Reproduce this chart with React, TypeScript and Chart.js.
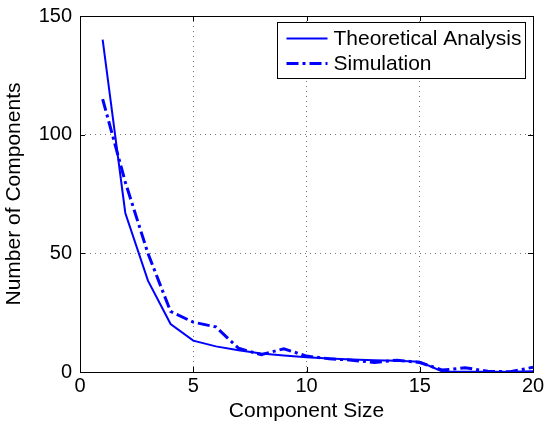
import React, { useEffect, useRef } from "react";
import { Chart, registerables } from "chart.js";

Chart.register(...registerables);

const componentSizes = [1, 2, 3, 4, 5, 6, 7, 8, 9, 10, 11, 12, 13, 14, 15, 16, 17, 18, 19, 20];
const theoretical = [140, 67, 38.5, 20.2, 13.2, 10.8, 9.2, 7.8, 7, 6.2, 5.7, 5.3, 5, 4.7, 4.3, 0.2, 0.1, 0.1, 0.1, 0.3];
const simulation = [115, 80, 50, 25.5, 21, 19, 10, 7.3, 9.8, 6.7, 5.6, 5, 4, 5, 4, 0.8, 1.8, 0.3, 0.1, 2];
const seriesNames = ["Theoretical Analysis", "Simulation"];
const xTitle = "Component Size";
const yTitle = "Number of Components";

const FONT = "Liberation Sans, Arial, Helvetica, sans-serif";

const boxPlugin = {
  id: "matlabBox",
  afterDraw(chart: any) {
    const { ctx, chartArea: a, scales } = chart;
    ctx.save();
    ctx.strokeStyle = "#000";
    ctx.lineWidth = 1;
    ctx.setLineDash([]);
    ctx.strokeRect(Math.round(a.left) + 0.5, Math.round(a.top) + 0.5, Math.round(a.right - a.left), Math.round(a.bottom - a.top));
    const tl = 5;
    ctx.beginPath();
    scales.x.ticks.forEach((t: any) => {
      const px = Math.round(scales.x.getPixelForValue(t.value)) + 0.5;
      ctx.moveTo(px, a.bottom);
      ctx.lineTo(px, a.bottom - tl);
      ctx.moveTo(px, a.top);
      ctx.lineTo(px, a.top + tl);
    });
    scales.y.ticks.forEach((t: any) => {
      const py = Math.round(scales.y.getPixelForValue(t.value)) + 0.5;
      ctx.moveTo(a.left, py);
      ctx.lineTo(a.left + tl, py);
      ctx.moveTo(a.right, py);
      ctx.lineTo(a.right - tl, py);
    });
    ctx.stroke();

    // legend
    const lx0 = Math.round(a.right - 256) + 0.5;
    const ly0 = Math.round(a.top + 6) + 0.5;
    const lw = 248;
    const lh = 56;
    ctx.fillStyle = "#fff";
    ctx.fillRect(lx0, ly0, lw, lh);
    ctx.strokeStyle = "#000";
    ctx.strokeRect(lx0, ly0, lw, lh);
    const ds = chart.data.datasets;
    const rows = [ly0 + 16, ly0 + 41];
    ds.forEach((d: any, i: number) => {
      ctx.strokeStyle = d.borderColor;
      ctx.lineWidth = d.borderWidth;
      ctx.setLineDash(d.borderDash || []);
      ctx.beginPath();
      ctx.moveTo(lx0 + 9, rows[i]);
      ctx.lineTo(lx0 + 50, rows[i]);
      ctx.stroke();
      ctx.setLineDash([]);
      ctx.fillStyle = "#000";
      ctx.font = "21px " + FONT;
      ctx.textBaseline = "middle";
      ctx.textAlign = "left";
      ctx.fillText(d.label, lx0 + 56, rows[i] + 1);
    });
    ctx.restore();
  },
};

export default function App() {
  const ref = useRef<HTMLCanvasElement | null>(null);
  useEffect(() => {
    if (!ref.current) return;
    const chart = new Chart(ref.current, {
      type: "line",
      data: {
        datasets: [
          {
            label: seriesNames[0],
            data: componentSizes.map((x, i) => ({ x, y: theoretical[i] })),
            borderColor: "#0000ff",
            borderWidth: 2,
            pointRadius: 0,
            tension: 0,
            fill: false,
          },
          {
            label: seriesNames[1],
            data: componentSizes.map((x, i) => ({ x, y: simulation[i] })),
            borderColor: "#0000ff",
            borderWidth: 3,
            borderDash: [12, 4, 3, 4],
            pointRadius: 0,
            tension: 0,
            fill: false,
          },
        ],
      },
      options: {
        animation: false,
        responsive: false,
        maintainAspectRatio: false,
        layout: { padding: { top: 16, right: 13, left: 0, bottom: 0 } },
        plugins: { legend: { display: false }, tooltip: { enabled: false } },
        scales: {
          x: {
            type: "linear",
            min: 0,
            max: 20,
            ticks: { stepSize: 5, color: "#000", font: { size: 20, family: FONT }, padding: 2, maxRotation: 0 },
            grid: { color: "#777", drawTicks: false } as any,
            border: { display: false, dash: [1, 4] },
            title: { display: true, text: xTitle, color: "#000", font: { size: 21, family: FONT }, padding: { top: 0, bottom: 5 } },
            afterFit(scale: any) {
              scale.height = 57;
              scale.paddingLeft = 0;
              scale.paddingRight = 0;
            },
          },
          y: {
            type: "linear",
            min: 0,
            max: 150,
            ticks: { stepSize: 50, color: "#000", font: { size: 20, family: FONT }, padding: 8 },
            grid: { color: "#777", drawTicks: false } as any,
            border: { display: false, dash: [1, 4] },
            title: { display: true, text: yTitle, color: "#000", font: { size: 21, family: FONT }, padding: { top: 2, bottom: 0 } },
            afterFit(scale: any) {
              scale.width = 80;
              scale.paddingTop = 0;
              scale.paddingBottom = 0;
            },
          },
        },
      },
      plugins: [boxPlugin],
    });
    return () => chart.destroy();
  }, []);
  return (
    <div style={{ position: "absolute", left: 0, top: 0, width: 546, height: 429, background: "#fff" }}>
      <canvas ref={ref} width={546} height={429} style={{ display: "block" }} />
    </div>
  );
}
